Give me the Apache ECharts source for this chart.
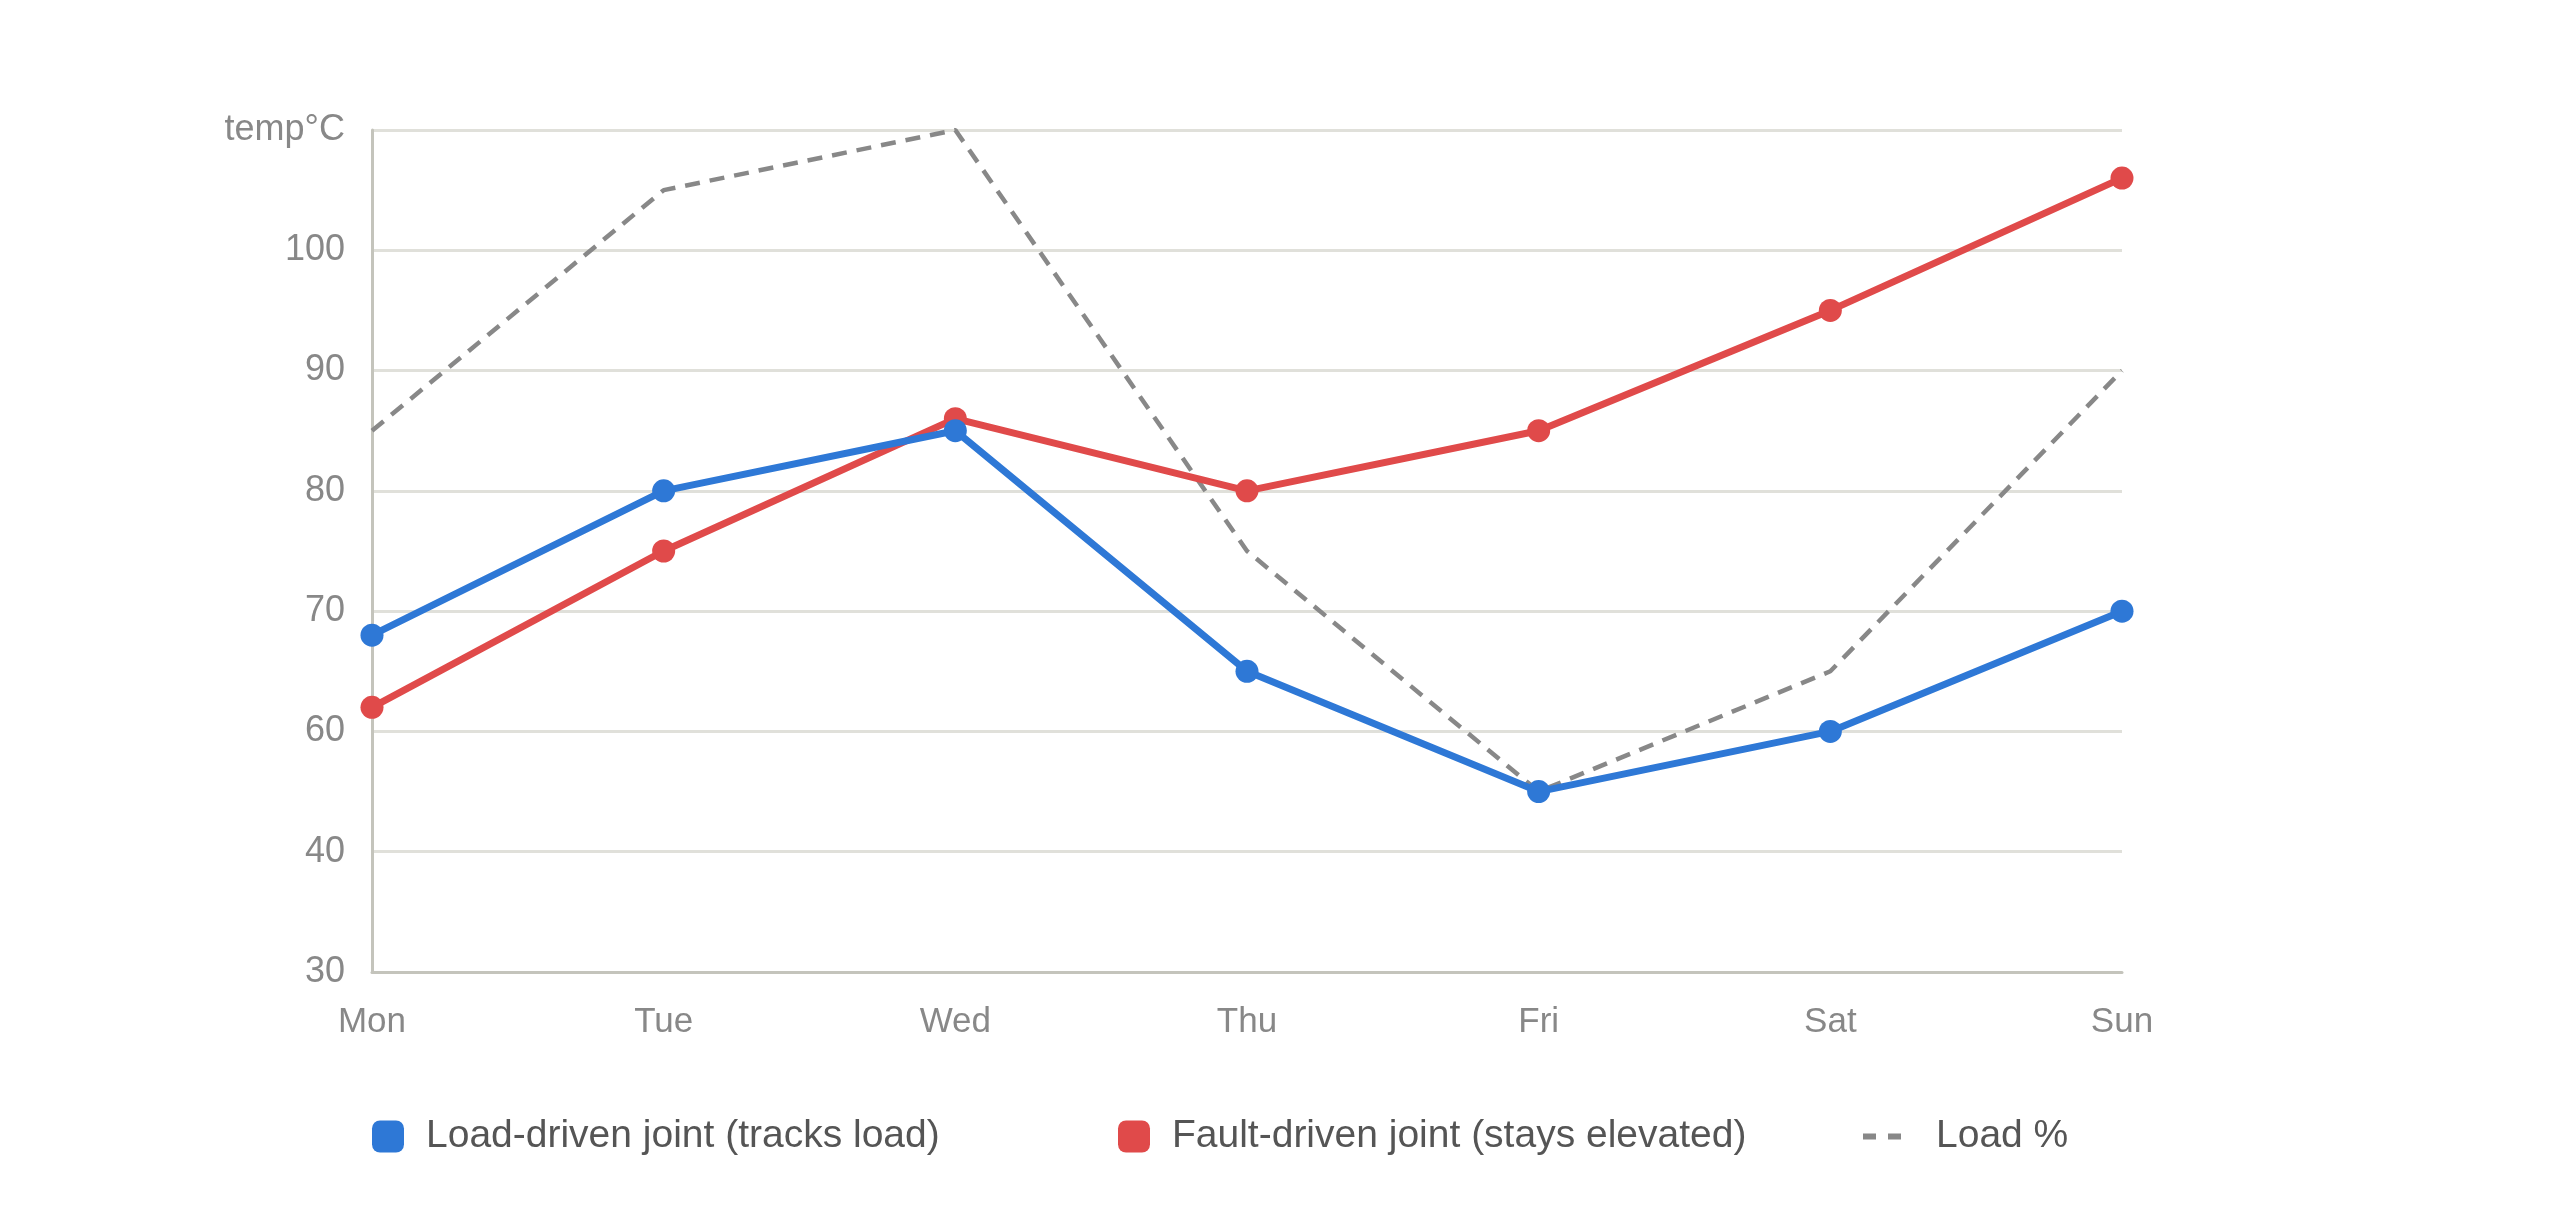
<!DOCTYPE html>
<html>
<head>
	<meta http-equiv="Content-Type" content="text/html; charset=utf-8" />
	<title>joint temperature</title>
	<style>
		html, body { margin: 0; padding: 0; background: #fff; }
		#main { width: 2560px; height: 1232px; }
	</style>
</head>
<body>
	<div id="main"></div>
	<script src="https://cdn.jsdelivr.net/npm/echarts@6/dist/echarts.min.js"></script>
	<script type="text/javascript">
		// x categories
		var days = ['Mon', 'Tue', 'Wed', 'Thu', 'Fri', 'Sat', 'Sun'];
		// tick labels as printed on the y axis, bottom to top (one per 10 units of the axis)
		var yTickLabels = ['30', '40', '60', '70', '80', '90', '100', 'temp°C'];
		// series values, in axis units (30..100)
		var loadDriven = [58, 70, 75, 55, 45, 50, 60];
		var faultDriven = [52, 65, 76, 70, 75, 85, 96];
		var loadPct = [75, 95, 100, 65, 45, 55, 80];

		var font = 'Liberation Sans, Arial, sans-serif';
		var chart = echarts.init(document.getElementById('main'));

		function legendText(gap) {
			return { color: '#555', fontSize: 39, fontFamily: font, padding: [0, 0, 0, gap] };
		}

		chart.setOption({
			animation: false,
			grid: { left: 372, right: 438, top: 130, bottom: 260, containLabel: false },
			legend: [
				{
					data: [{ name: 'Load-driven joint (tracks load)', icon: 'roundRect' }],
					left: 372, top: 1117, padding: 0, itemWidth: 32, itemHeight: 32,
					textStyle: legendText(17)
				},
				{
					data: [{ name: 'Fault-driven joint (stays elevated)', icon: 'roundRect' }],
					left: 1118, top: 1117, padding: 0, itemWidth: 32, itemHeight: 32,
					textStyle: legendText(17)
				},
				{
					data: [{ name: 'Load %', icon: 'path://M0,0h13v6h-13zM25,0h13v6h-13z' }],
					left: 1863, top: 1117, padding: 0, itemWidth: 40, itemHeight: 6,
					textStyle: legendText(29)
				}
			],
			xAxis: {
				type: 'category',
				data: days,
				boundaryGap: false,
				axisLine: { lineStyle: { color: '#c4c4bc', width: 3 } },
				axisTick: { show: false },
				axisLabel: { color: '#888', fontSize: 35, fontFamily: font, margin: 33 },
				splitLine: { show: false }
			},
			yAxis: {
				type: 'value',
				min: 30, max: 100, interval: 10,
				axisLine: { show: true, lineStyle: { color: '#c4c4bc', width: 3 } },
				axisTick: { show: false },
				axisLabel: {
					color: '#888', fontSize: 36, fontFamily: font, margin: 27,
					padding: [12, 0, 0, 0],
					formatter: function (v) {
						return yTickLabels[Math.round((v - 30) / 10)];
					}
				},
				splitLine: { lineStyle: { color: '#e0e0da', width: 3 } }
			},
			series: [
				{
					name: 'Load %',
					type: 'line',
					data: loadPct,
					symbol: 'none',
					itemStyle: { color: '#888' },
					lineStyle: { color: '#888', width: 4.5, type: [15, 10] },
					z: 1
				},
				{
					name: 'Load-driven joint (tracks load)',
					type: 'line',
					data: loadDriven,
					symbol: 'circle',
					symbolSize: 23,
					itemStyle: { color: '#2e78d6' },
					lineStyle: { color: '#2e78d6', width: 7 },
					z: 3
				},
				{
					name: 'Fault-driven joint (stays elevated)',
					type: 'line',
					data: faultDriven,
					symbol: 'circle',
					symbolSize: 23,
					itemStyle: { color: '#e04a4a' },
					lineStyle: { color: '#e04a4a', width: 7 },
					z: 2
				}
			]
		});
	</script>
</body>
</html>
